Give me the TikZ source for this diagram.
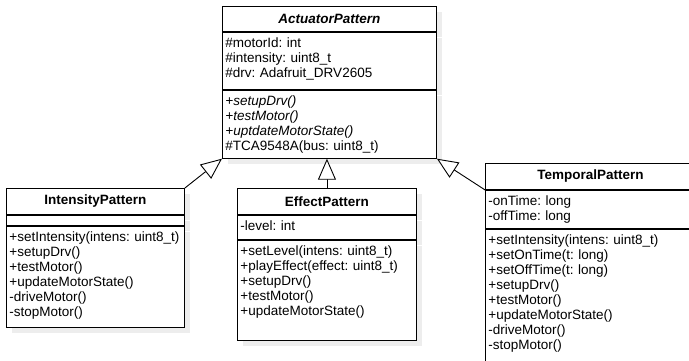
\documentclass[tikz,border=0pt]{standalone}
\usepackage{fontspec}
\setmainfont{Liberation Sans}
\usetikzlibrary{arrows.meta,positioning,shadows}
\definecolor{shadowgray}{gray}{0.93}
\newcommand{\umlfont}{\fontsize{13.5}{15}\selectfont\frenchspacing}
\newcommand{\members}[2]{\noindent\parbox[c][#1][t]{\hsize}{\raggedright\rule{0pt}{15pt}#2}}

\begin{document}
\begin{tikzpicture}[x=1pt, y=-1pt, line width=0.9pt,
  cls/.style={draw, fill=white, anchor=north west, inner xsep=3pt, inner ysep=0pt,
    text width=#1, align=left, font=\umlfont,
    general shadow={fill=shadowgray, shadow xshift=6pt, shadow yshift=-6pt}},
  clstitle/.style={cls=#1, align=center, minimum height=26pt, font=\umlfont\bfseries},
  inherit/.style={-{Triangle[length=21pt, width=18pt, fill=white]}}]
 \useasboundingbox (0,0) rectangle (689,361);
 \clip (0,0) rectangle (689,361);

 % ActuatorPattern
 \node [clstitle=208pt, minimum height=25pt, font=\umlfont\bfseries\itshape] (aT) at (222,6) {ActuatorPattern};
 \node [cls=208pt, below=0pt of aT] (aA) {\members{57pt}{\#motorId: int\\ \#intensity: uint8\_t\\ \#drv: Adafruit\_DRV2605}};
 \node [cls=208pt, below=0pt of aA] (aM) {\members{68pt}{\textit{+setupDrv()}\\ \textit{+testMotor()}\\ \textit{+uptdateMotorState()}\\ \#TCA9548A(bus: uint8\_t)}};

 % IntensityPattern
 \node [clstitle=172pt] (iT) at (6,188) {IntensityPattern};
 \node [cls=172pt, below=0pt of iT, minimum height=10pt] (iA) {};
 \node [cls=172pt, below=0pt of iA] (iM) {\members{101pt}{+setIntensity(intens: uint8\_t)\\ +setupDrv()\\ +testMotor()\\ +updateMotorState()\\ -driveMotor()\\ -stopMotor()}};

 % EffectPattern
 \node [clstitle=173pt] (eT) at (237,188) {EffectPattern};
 \node [cls=173pt, below=0pt of eT] (eA) {\members{24pt}{-level: int}};
 \node [cls=173pt, below=0pt of eA] (eM) {\members{100pt}{+setLevel(intens: uint8\_t)\\ +playEffect(effect: uint8\_t)\\ +setupDrv()\\ +testMotor()\\ +updateMotorState()}};

 % TemporalPattern
 \node [clstitle=204pt] (tT) at (485,163) {TemporalPattern};
 \node [cls=204pt, below=0pt of tT] (tA) {\members{38pt}{-onTime: long\\ -offTime: long}};
 \node [cls=204pt, below=0pt of tA] (tM) {\members{133pt}{+setIntensity(intens: uint8\_t)\\ +setOnTime(t: long)\\ +setOffTime(t: long)\\ +setupDrv()\\ +testMotor()\\ +updateMotorState()\\ -driveMotor()\\ -stopMotor()}};

 \draw [inherit] (iT.north east) -- (aM.south west);
 \draw [inherit] (eT.north) -- (eT.north |- aM.south);
 \draw [inherit] (tT.south west) -- (aM.south east);
\end{tikzpicture}
\end{document}
